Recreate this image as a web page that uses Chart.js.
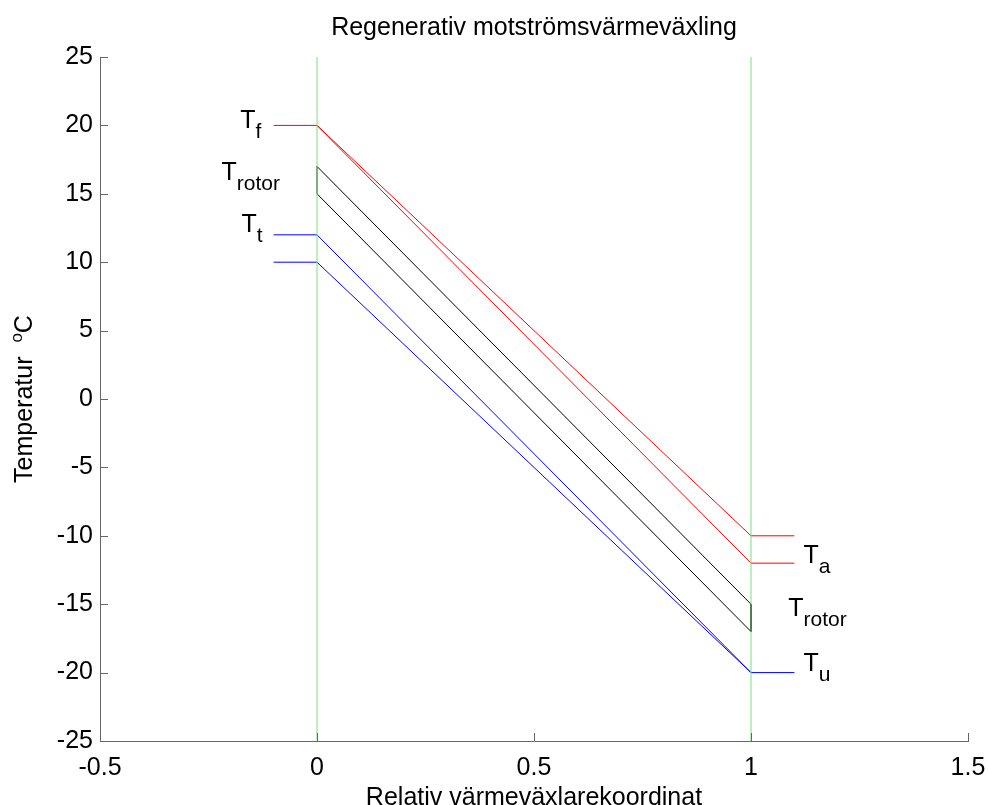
<!DOCTYPE html>
<html>
<head>
<meta charset="utf-8">
<script src="https://cdn.jsdelivr.net/npm/chart.js@4.4.0/dist/chart.umd.min.js"></script>
<style>
  html, body { margin: 0; padding: 0; background: #fff; }
  #wrap { width: 988px; height: 805px; }
</style>
</head>
<body>
<div id="wrap"><canvas id="chart" width="988" height="805"></canvas></div>
<script>
// axis ticks
const xTicks = [-0.5, 0, 0.5, 1, 1.5];
const yTicks = [-25, -20, -15, -10, -5, 0, 5, 10, 15, 20, 25];

// vertical reference lines at both ends of the exchanger
const refX = [0, 1];
const refY = [-25, 25];

// supply air (red)
const supplyX1 = [-0.1, 0, 1, 1.1];
const supplyY1 = [20, 20, -10, -10];
const supplyX2 = [0, 1, 1.1];
const supplyY2 = [20, -12, -12];

// rotor (black)
const rotorX = [0, 1, 1, 0, 0];
const rotorY = [17, -15, -17, 15, 17];

// exhaust air (blue)
const exhaustX1 = [-0.1, 0, 1, 1.1];
const exhaustY1 = [12, 12, -20, -20];
const exhaustX2 = [-0.1, 0, 1];
const exhaustY2 = [10, 10, -20];

// text labels
const labelSubs = ['f', 'rotor', 't', 'a', 'rotor', 'u'];
const labelX = [-0.177, -0.22, -0.174, 1.121, 1.086, 1.121];
const labelY = [20.4, 16.6, 12.8, -11.4, -15.3, -19.3];

const titleText = 'Regenerativ motströmsvärmeväxling';
const xTitle = 'Relativ värmeväxlarekoordinat';

const FONT = '"Liberation Sans", Arial, sans-serif';

function pts(xs, ys) {
    return xs.map((x, i) => ({ x: x, y: ys[i] }));
}

function line(xs, ys, color) {
    return {
        data: pts(xs, ys),
        borderColor: color,
        borderWidth: 1,
        pointRadius: 0,
        showLine: true,
        fill: false,
        tension: 0
    };
}

const decor = {
    id: 'decor',
    afterDraw(chart) {
        const { ctx, chartArea: a, scales: { x, y } } = chart;
        ctx.save();

        // inward tick marks
        ctx.strokeStyle = '#666';
        ctx.lineWidth = 1;
        ctx.beginPath();
        x.ticks.forEach(t => {
            const px = Math.round(x.getPixelForValue(t.value)) + 0.5;
            ctx.moveTo(px, a.bottom);
            ctx.lineTo(px, a.bottom - 8);
        });
        y.ticks.forEach(t => {
            const py = Math.round(y.getPixelForValue(t.value)) + 0.5;
            ctx.moveTo(a.left, py);
            ctx.lineTo(a.left + 8, py);
        });
        ctx.stroke();

        ctx.fillStyle = '#000';
        ctx.font = '25px ' + FONT;
        ctx.textAlign = 'center';
        ctx.textBaseline = 'alphabetic';
        const cx = (a.left + a.right) / 2;
        ctx.fillText(titleText, cx, 35);
        ctx.fillText(xTitle, cx, 805);

        // y title with superscript
        ctx.save();
        ctx.translate(32, (a.top + a.bottom) / 2);
        ctx.rotate(-Math.PI / 2);
        ctx.textAlign = 'left';
        const part1 = 'Temperatur  ';
        ctx.font = '25px ' + FONT;
        const w1 = ctx.measureText(part1).width;
        const w3 = ctx.measureText('C').width;
        ctx.font = '17px ' + FONT;
        const w2 = ctx.measureText('o').width;
        let sx = -(w1 + w2 + w3) / 2;
        ctx.font = '25px ' + FONT;
        ctx.fillText(part1, sx, 0);
        ctx.font = '17px ' + FONT;
        ctx.fillText('o', sx + w1, -10);
        ctx.font = '25px ' + FONT;
        ctx.fillText('C', sx + w1 + w2, 0);
        ctx.restore();

        // T labels with subscripts
        ctx.textAlign = 'left';
        labelSubs.forEach((sub, i) => {
            const px = x.getPixelForValue(labelX[i]);
            const py = y.getPixelForValue(labelY[i]);
            ctx.font = '25px ' + FONT;
            const base = py + 8;
            ctx.fillText('T', px, base);
            const tw = ctx.measureText('T').width;
            ctx.font = '21px ' + FONT;
            ctx.fillText(sub, px + tw, base + 10);
        });

        ctx.restore();
    }
};

new Chart(document.getElementById('chart'), {
    type: 'scatter',
    data: {
        datasets: [
            line([refX[0], refX[0]], refY, 'rgb(120,225,120)'),
            line([refX[1], refX[1]], refY, 'rgb(120,225,120)'),
            line(supplyX1, supplyY1, '#ff0000'),
            line(supplyX2, supplyY2, '#ff0000'),
            line(rotorX, rotorY, '#000000'),
            line(exhaustX1, exhaustY1, '#0000ff'),
            line(exhaustX2, exhaustY2, '#0000ff')
        ]
    },
    options: {
        responsive: false,
        animation: false,
        layout: { padding: { top: 57, right: 20, left: 0, bottom: 0 } },
        plugins: {
            legend: { display: false },
            tooltip: { enabled: false },
            title: { display: false }
        },
        scales: {
            x: {
                type: 'linear',
                min: xTicks[0],
                max: xTicks[xTicks.length - 1],
                afterBuildTicks: s => { s.ticks = xTicks.map(v => ({ value: v })); },
                afterFit: s => { s.height = 64; s.paddingLeft = 0; s.paddingRight = 0; },
                grid: { drawOnChartArea: false, drawTicks: false },
                border: { display: true, color: '#666', width: 1 },
                ticks: {
                    color: '#000',
                    font: { family: FONT, size: 25 },
                    padding: 12,
                    maxRotation: 0,
                    callback: v => String(v)
                }
            },
            y: {
                type: 'linear',
                min: yTicks[0],
                max: yTicks[yTicks.length - 1],
                afterBuildTicks: s => { s.ticks = yTicks.map(v => ({ value: v })); },
                afterFit: s => { s.width = 100; s.paddingTop = 0; s.paddingBottom = 0; },
                grid: { drawOnChartArea: false, drawTicks: false },
                border: { display: true, color: '#666', width: 1 },
                ticks: {
                    color: '#000',
                    font: { family: FONT, size: 25 },
                    padding: 7,
                    callback: v => String(v)
                }
            }
        }
    },
    plugins: [decor]
});
</script>
</body>
</html>
